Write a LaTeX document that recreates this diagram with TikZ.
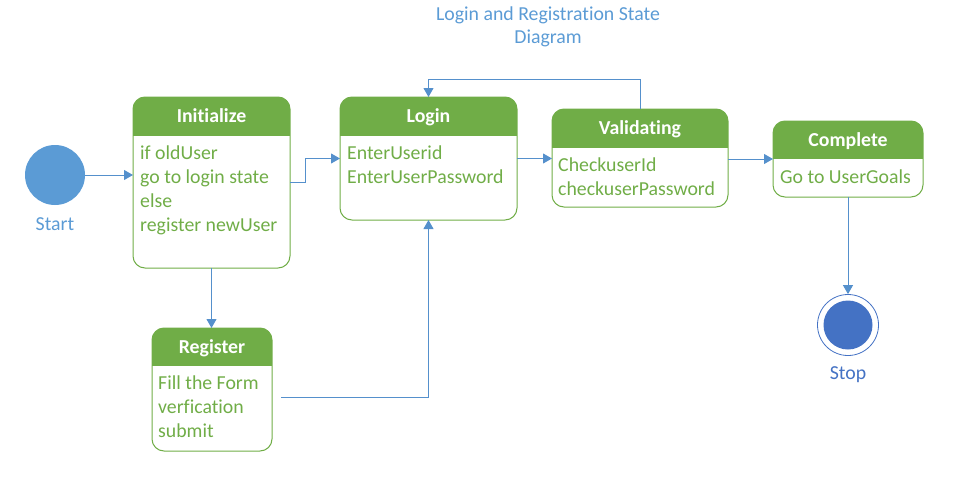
\documentclass[tikz,border=0pt]{standalone}
\usepackage{fontspec}
\setmainfont{Carlito}[Ligatures={NoCommon}]
\usetikzlibrary{arrows.meta}
\definecolor{hgreen}{HTML}{70AD47}
\definecolor{cblue}{HTML}{5B9BD5}
\definecolor{lblue}{HTML}{5590CC}
\definecolor{sblue}{HTML}{4472C4}
\newcommand\drawstate[6]{%
  \node[statebox, minimum width=#4pt, minimum height=#5pt] (#1) at (#2,#3) {};
  \begin{scope}
    \clip[rounded corners=12pt] (#1.north west) rectangle (#1.south east);
    \fill[hgreen] (#1.north west) rectangle ([yshift=-#6pt]#1.north east);
  \end{scope}
  \draw[hgreen, line width=1pt, rounded corners=12pt] (#1.north west) rectangle (#1.south east);
}
\begin{document}
\begin{tikzpicture}[x=1pt,y=-1pt,
  statebox/.style={rectangle, inner sep=0pt, outer sep=0pt, anchor=north west},
  conn/.style={draw=lblue, line width=1pt, -{Triangle[length=9pt,width=10pt]}},
  hdrtext/.style={anchor=base, text=white, font=\bfseries\fontsize{19.8}{24}\selectfont, inner sep=0pt},
  bodytext/.style={anchor=base west, text=hgreen, font=\fontsize{19.8}{24}\selectfont, inner sep=0pt},
  labtext/.style={anchor=base, font=\fontsize{19.8}{24}\selectfont, inner sep=0pt}]
\useasboundingbox (0,0) rectangle (975,498);

% title
\node[labtext, text=cblue] (t1) at (548,20) {Login and Registration State};
\node[labtext, text=cblue] (t2) at (548,43) {Diagram};

% start
\node[circle, fill=cblue, minimum size=60pt, inner sep=0pt] (start) at (55,175) {};
\node[labtext, text=cblue] (startL) at (55,230) {Start};

% states
\drawstate{init}{133}{97}{157}{171}{39}
\node[hdrtext] (initT) at (211.5,122) {Initialize};
\node[bodytext] (i1) at (140,159) {if oldUser};
\node[bodytext] (i2) at (140,183) {go to login state};
\node[bodytext] (i3) at (140,207) {else};
\node[bodytext] (i4) at (140,231) {register newUser};

\drawstate{login}{340}{97}{177}{123}{39}
\node[hdrtext] (loginT) at (428.5,122) {Login};
\node[bodytext] (l1) at (347,159) {EnterUserid};
\node[bodytext] (l2) at (347,183) {EnterUserPassword};

\drawstate{valid}{552}{109}{176}{98}{39}
\node[hdrtext] (validT) at (640,134) {Validating};
\node[bodytext] (v1) at (558,171) {CheckuserId};
\node[bodytext] (v2) at (558,195) {checkuserPassword};

\drawstate{comp}{773}{121}{150}{76}{38}
\node[hdrtext] (compT) at (848,146) {Complete};
\node[bodytext] (c1) at (780,183) {Go to UserGoals};

\drawstate{reg}{152}{328}{120}{123}{38}
\node[hdrtext] (regT) at (212,353) {Register};
\node[bodytext] (r1) at (158,389) {Fill the Form};
\node[bodytext] (r2) at (158,413) {verfication};
\node[bodytext] (r3) at (158,437) {submit};

% stop
\node[circle, draw=sblue, line width=0.8pt, minimum size=61pt, inner sep=0pt] (stop) at (848,325) {};
\node[circle, fill=sblue, minimum size=49pt, inner sep=0pt] (stopin) at (stop.center) {};
\node[labtext, text=sblue] (stopL) at (848,379) {Stop};

% connectors
\draw[conn] (start.east) -- (start.east -| init.west);
\draw[conn] (init.east) -- ++(15,0) |- (login.west);
\draw[conn] (login.east) -- (login.east -| valid.west);
\draw[conn] (valid.north) -- ++(0,-30) -| (login.north);
\draw[conn] (valid.east |- comp.west) -- (comp.west);
\draw[conn] (comp.south) -- (stop.north);
\draw[conn] (init.south) -- (init.south |- reg.north);
\coordinate (regout) at (281,397);
\draw[conn] (regout) -| (login.south);
\end{tikzpicture}
\end{document}
